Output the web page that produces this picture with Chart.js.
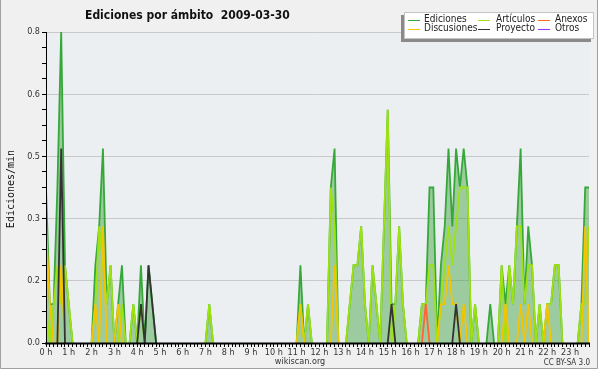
<!DOCTYPE html>
<html><head><meta charset="utf-8">
<script src="https://cdn.jsdelivr.net/npm/chart.js@4.4.0/dist/chart.umd.min.js"></script>
<style>html,body{margin:0;padding:0;background:#fff;}canvas{display:block;}</style>
</head><body>
<canvas id="c" width="600" height="370"></canvas>
<script>
const chartTitle = 'Ediciones por ámbito  2009-03-30';
const yAxisTitle = 'Ediciones/min';
const footerLeft = 'wikiscan.org';
const footerRight = 'CC BY-SA 3.0';
const seriesNames = ['Ediciones', 'Artículos', 'Anexos', 'Discusiones', 'Proyecto', 'Otros'];
const hourLabels = ['0 h','1 h','2 h','3 h','4 h','5 h','6 h','7 h','8 h','9 h','10 h','11 h',
  '12 h','13 h','14 h','15 h','16 h','17 h','18 h','19 h','20 h','21 h','22 h','23 h'];
const yTickLabels = ['0.0', '0.2', '0.3', '0.5', '0.6', '0.8'];

// edits per minute, one value every 10 minutes (6 per hour group)
const ediciones = [
  0.4,0.1,0.1,0.4,0.8,0.2,  0.1,0,0,0,0,0,  0,0.2,0.3,0.5,0.1,0.2,  0,0.1,0.2,0,0,0.1,
  0,0.2,0,0.2,0.1,0,  0,0,0,0,0,0,  0,0,0,0,0,0,  0,0.1,0,0,0,0,
  0,0,0,0,0,0,  0,0,0,0,0,0,  0,0,0,0,0,0,  0,0.2,0,0.1,0,0,
  0,0,0,0.4,0.5,0,  0,0,0.1,0.2,0.2,0.3,  0.1,0,0.2,0.1,0,0.3,  0.6,0.1,0.1,0.3,0.1,0,
  0,0,0,0.1,0.1,0.4,  0.4,0,0.2,0.3,0.5,0.3,  0.5,0.4,0.5,0.4,0,0.1,  0,0,0,0.1,0,0,
  0.2,0.1,0.2,0.1,0.3,0.5,  0.1,0.3,0.2,0,0.1,0,  0.1,0.1,0.2,0.2,0,0,  0,0,0,0.1,0.4,0.4
];
const articulos = [
  0.1,0,0.1,0.2,0.1,0.2,  0.1,0,0,0,0,0,  0,0.1,0.3,0.2,0.1,0.2,  0,0,0.1,0,0,0.1,
  0,0.1,0,0,0,0,  0,0,0,0,0,0,  0,0,0,0,0,0,  0,0.1,0,0,0,0,
  0,0,0,0,0,0,  0,0,0,0,0,0,  0,0,0,0,0,0,  0,0.1,0,0.1,0,0,
  0,0,0,0.4,0.3,0,  0,0,0.1,0.2,0.2,0.3,  0.1,0,0.2,0.1,0,0.3,  0.6,0,0.1,0.3,0.1,0,
  0,0,0,0.1,0.1,0.2,  0.2,0,0.1,0.2,0.3,0.2,  0.3,0.4,0.4,0.4,0,0.1,  0,0,0,0,0,0,
  0.2,0,0.2,0.1,0.3,0.3,  0.1,0.2,0.2,0,0.1,0,  0.1,0.1,0.2,0.2,0,0,  0,0,0,0.1,0.1,0.3
];
const anexos = [
  0,0,0,0,0,0,  0,0,0,0,0,0,  0,0,0,0,0,0,  0,0,0,0,0,0,
  0,0,0,0,0,0,  0,0,0,0,0,0,  0,0,0,0,0,0,  0,0,0,0,0,0,
  0,0,0,0,0,0,  0,0,0,0,0,0,  0,0,0,0,0,0,  0,0,0,0,0,0,
  0,0,0,0,0,0,  0,0,0,0,0,0,  0,0,0,0,0,0,  0,0,0,0,0,0,
  0,0,0,0,0.1,0,  0,0,0,0,0,0,  0,0,0,0,0,0,  0,0,0,0,0,0,
  0,0,0,0,0,0,  0,0,0,0,0,0,  0,0,0,0,0,0,  0,0,0,0,0,0
];
const discusiones = [
  0.3,0.1,0,0,0.2,0,  0,0,0,0,0,0,  0,0.1,0,0.3,0,0,  0,0.1,0,0,0,0,
  0,0,0,0,0,0,  0,0,0,0,0,0,  0,0,0,0,0,0,  0,0,0,0,0,0,
  0,0,0,0,0,0,  0,0,0,0,0,0,  0,0,0,0,0,0,  0,0.1,0,0,0,0,
  0,0,0,0,0.2,0,  0,0,0,0,0,0,  0,0,0,0,0,0,  0,0,0,0,0,0,
  0,0,0,0,0,0,  0,0,0.1,0.1,0.2,0.1,  0.1,0,0.1,0,0,0,  0,0,0,0,0,0,
  0,0.1,0,0,0,0.1,  0,0.1,0,0,0,0,  0.1,0,0,0,0,0,  0,0,0,0,0.3,0
];
const proyecto = [
  0,0,0,0,0.5,0,  0,0,0,0,0,0,  0,0,0,0,0,0,  0,0,0,0,0,0,
  0,0.1,0,0.2,0.1,0,  0,0,0,0,0,0,  0,0,0,0,0,0,  0,0,0,0,0,0,
  0,0,0,0,0,0,  0,0,0,0,0,0,  0,0,0,0,0,0,  0,0,0,0,0,0,
  0,0,0,0,0,0,  0,0,0,0,0,0,  0,0,0,0,0,0,  0,0.1,0,0,0,0,
  0,0,0,0,0,0,  0,0,0,0,0,0,  0.1,0,0,0,0,0,  0,0,0,0,0,0,
  0,0,0,0,0,0,  0,0,0,0,0,0,  0,0,0,0,0,0,  0,0,0,0,0,0
];
const otros = [
  0,0,0,0,0,0,  0,0,0,0,0,0,  0,0,0,0,0,0,  0,0,0,0,0,0,
  0,0,0,0,0,0,  0,0,0,0,0,0,  0,0,0,0,0,0,  0,0,0,0,0,0,
  0,0,0,0,0,0,  0,0,0,0,0,0,  0,0,0,0,0,0,  0,0,0,0,0,0,
  0,0,0,0,0,0,  0,0,0,0,0,0,  0,0,0,0,0,0,  0,0,0,0,0,0,
  0,0,0,0,0,0,  0,0,0,0,0,0,  0,0,0,0,0,0,  0,0,0,0,0,0,
  0,0,0,0,0,0,  0,0,0,0,0,0,  0,0,0,0,0,0,  0,0,0,0,0,0
];

const seriesValues = [ediciones, articulos, anexos, discusiones, proyecto, otros];
const seriesColors = ['#36a83a', '#9ee210', '#ff6633', '#f5c400', '#333333', '#9933ff'];
const drawOrder = [6, 5, 3, 4, 2, 1];
const COND = "'DejaVu Sans Condensed', 'DejaVu Sans', sans-serif";

const toPoints = arr => arr.map((v, i) => ({x: i / 6, y: v}));

const datasets = seriesNames.map((name, k) => ({
  label: name,
  data: toPoints(seriesValues[k]),
  borderColor: seriesColors[k],
  borderWidth: 1.8,
  backgroundColor: 'rgba(60,160,60,0.45)',
  fill: k === 0 ? 'origin' : false,
  pointRadius: 0,
  tension: 0,
  order: drawOrder[k],
  segment: {
    borderColor: ctx => (ctx.p0.parsed.y === 0 && ctx.p1.parsed.y === 0 ? 'rgba(0,0,0,0)' : undefined)
  }
}));

const decor = {
  id: 'decor',
  beforeDraw(chart) {
    const c = chart.ctx, a = chart.chartArea;
    c.save();
    c.fillStyle = '#ffffff'; c.fillRect(0, 0, 600, 370);
    c.fillStyle = '#f0f0f0'; c.fillRect(0, 0, 598, 369);
    c.fillStyle = '#eceff1'; c.fillRect(a.left, a.top, a.right - a.left, a.bottom - a.top);
    c.strokeStyle = '#a0a0a0'; c.lineWidth = 1;
    c.beginPath(); c.moveTo(0.5, 0); c.lineTo(0.5, 368.5); c.lineTo(597.5, 368.5); c.lineTo(597.5, 0); c.stroke();
    c.restore();
  },
  afterDatasetsDraw(chart) {
    const c = chart.ctx, a = chart.chartArea;
    c.save();
    c.strokeStyle = '#000';
    c.lineWidth = 2;
    c.beginPath(); c.moveTo(a.left - 1, a.bottom + 0.5); c.lineTo(a.right + 1, a.bottom + 0.5); c.stroke();
    c.lineWidth = 1;
    c.beginPath(); c.moveTo(a.left + 0.5, a.top); c.lineTo(a.left + 0.5, a.bottom); c.stroke();
    c.restore();
  },
  afterDraw(chart) {
    const c = chart.ctx;
    c.save();
    c.fillStyle = '#111';
    c.font = "bold 12px " + COND;
    c.textBaseline = 'alphabetic'; c.textAlign = 'left';
    c.fillText(chartTitle, 85, 18.5);
    c.save();
    c.translate(13.5, 189);
    c.rotate(-Math.PI / 2);
    c.font = "10px 'DejaVu Sans Mono', monospace";
    c.textAlign = 'center'; c.textBaseline = 'alphabetic';
    c.fillText(yAxisTitle, 0, 0);
    c.restore();
    const bx = 404, by = 12, bw = 190, bh = 27;
    c.fillStyle = '#8a8a8a'; c.fillRect(bx - 3, by + 3, bw, bh);
    c.fillStyle = '#ffffff'; c.fillRect(bx, by, bw, bh);
    c.strokeStyle = '#c4c4c4'; c.lineWidth = 1; c.strokeRect(bx + 0.5, by + 0.5, bw - 1, bh - 1);
    const lineX = [408, 478, 538], textX = [424, 496, 555], rowY = [19.5, 28.5];
    c.font = "10px " + COND; c.textBaseline = 'middle'; c.textAlign = 'left';
    chart.data.datasets.forEach((ds, k) => {
      const col = k % 3, row = Math.floor(k / 3);
      c.strokeStyle = ds.borderColor; c.lineWidth = 1;
      c.beginPath(); c.moveTo(lineX[col], Math.round(rowY[row]) + 0.5); c.lineTo(lineX[col] + 12, Math.round(rowY[row]) + 0.5); c.stroke();
      c.fillStyle = '#222';
      c.fillText(ds.label, textX[col], rowY[row]);
    });
    c.fillStyle = '#333';
    c.font = "9px " + COND; c.textAlign = 'center'; c.textBaseline = 'middle';
    c.fillText(footerLeft, 300, 362);
    c.font = "8px " + COND; c.textAlign = 'right';
    c.fillText(footerRight, 590, 362.5);
    c.restore();
  }
};

new Chart(document.getElementById('c'), {
  type: 'line',
  data: {datasets},
  options: {
    responsive: false, animation: false, devicePixelRatio: 1,
    layout: {padding: {left: 0, top: 32, right: 11, bottom: 0}},
    plugins: {legend: {display: false}, title: {display: false}, tooltip: {enabled: false}},
    scales: {
      x: {
        type: 'linear', min: 0, max: (ediciones.length - 1) / 6,
        afterFit: s => { s.height = 27; },
        afterBuildTicks: s => { s.ticks = ediciones.map((_, i) => ({value: i / 6})); },
        grid: {drawOnChartArea: false, drawTicks: true, tickLength: 4, tickColor: '#000', tickWidth: 1},
        border: {display: false},
        ticks: {autoSkip: false, maxRotation: 0, minRotation: 0, padding: 0, color: '#333',
          font: {family: COND, size: 9},
          callback: (v, i) => (i % 6 === 0 ? hourLabels[i / 6] : '')}
      },
      y: {
        min: 0, max: 0.8,
        afterFit: s => { s.width = 46; },
        afterBuildTicks: s => { s.ticks = Array.from({length: 21}, (_, i) => ({value: i * 0.04})); },
        grid: {color: ctx => (ctx.index % 4 === 0 ? '#c9c9c9' : 'rgba(0,0,0,0)'),
          tickColor: '#000', tickLength: 4, drawTicks: true, lineWidth: 1},
        border: {display: false},
        ticks: {padding: 2, color: '#333', font: {family: COND, size: 9},
          callback: (v, i) => (i % 4 === 0 ? yTickLabels[i / 4] : '')}
      }
    }
  },
  plugins: [decor]
});
</script>
</body></html>
